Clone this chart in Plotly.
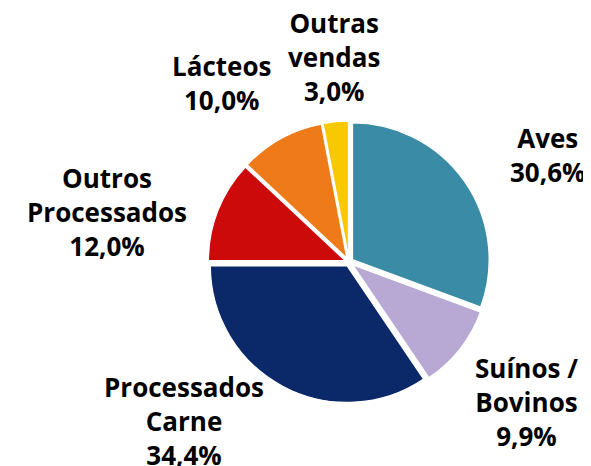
import plotly.graph_objects as go

# Sales breakdown
labels = ["Aves", "Suínos / Bovinos", "Processados Carne",
          "Outros Processados", "Lácteos", "Outras vendas"]
label_lines = ["Aves", "Suínos /<br>Bovinos", "Processados<br>Carne",
               "Outros<br>Processados", "Lácteos", "Outras<br>vendas"]
values = [30.6, 9.9, 34.4, 12.0, 10.0, 3.0]
colors = ["#3a8ca6", "#b8a8d4", "#0b2868", "#cc0a0a", "#ee7a1a", "#f8c800"]

# label centres in pixels (x, y from top)
label_pos = [(539, 147), (518, 394), (176, 413), (99, 204), (213, 75), (326, 49)]

W, H = 591, 466
cx, cy, r = 341, 254, 141

fig = go.Figure()

fig.add_trace(
    go.Pie(
        labels=labels,
        values=values,
        sort=False,
        direction="clockwise",
        rotation=0,
        pull=0.03,
        marker=dict(colors=colors, line=dict(color="white", width=1.5)),
        textinfo="none",
        hoverinfo="label+percent",
        showlegend=False,
        domain=dict(x=[(cx - r) / W, (cx + r) / W],
                    y=[(H - cy - r) / H, (H - cy + r) / H]),
    )
)

for txt, v, (px, py) in zip(label_lines, values, label_pos):
    fig.add_annotation(
        x=px / W, y=1 - py / H, xref="paper", yref="paper",
        text=f"{txt}<br>{v:.1f}%".replace(".", ","),
        showarrow=False, align="center",
        xanchor="center", yanchor="middle",
        font=dict(family="Open Sans", size=26, color="black", weight="bold"),
    )

fig.update_layout(
    width=W, height=H,
    margin=dict(l=0, r=0, t=0, b=0),
    paper_bgcolor="white",
    plot_bgcolor="white",
)

fig.write_html("out.html")
